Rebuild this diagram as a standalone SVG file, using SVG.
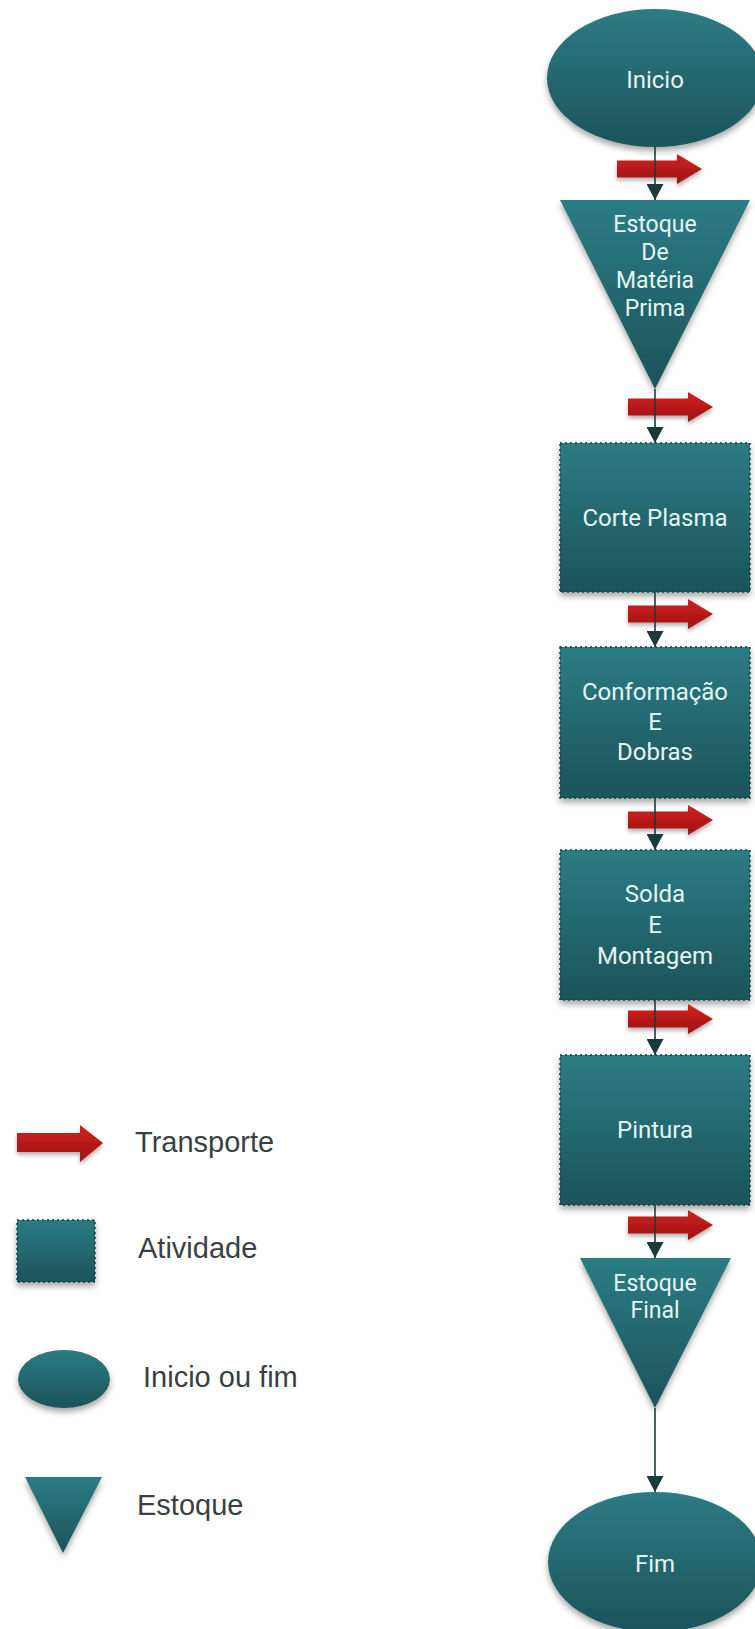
<svg xmlns="http://www.w3.org/2000/svg" width="755" height="1629" viewBox="0 0 755 1629">
<style>
.node-text{font-family:Roboto,"Liberation Sans",sans-serif;font-size:24px;fill:#e3f5f4;text-anchor:middle;dominant-baseline:central}
.tri-text{font-size:23px}
.legend-text{font-family:"Liberation Sans",Arial,sans-serif;font-size:29px;fill:#3a3f42;dominant-baseline:central}
.shape{fill:url(#teal);filter:url(#shadow)}
.act{stroke:#173c40;stroke-width:1.5;stroke-dasharray:2 3}
.conn{stroke:#1d3a3a;stroke-width:1.6;fill:none;marker-end:url(#head)}
.tr{fill:url(#red);filter:url(#shadow2)}
</style>
<defs>
<linearGradient id="teal" x1="0" y1="0" x2="0" y2="1">
<stop offset="0" stop-color="#2c7c84"/>
<stop offset="1" stop-color="#1c5359"/>
</linearGradient>
<linearGradient id="red" x1="0" y1="0" x2="0" y2="1">
<stop offset="0" stop-color="#d42020"/>
<stop offset="1" stop-color="#9c1212"/>
</linearGradient>
<filter id="shadow" x="-20%" y="-20%" width="140%" height="140%">
<feDropShadow dx="0" dy="4" stdDeviation="3" flood-color="#000" flood-opacity="0.35"/>
</filter>
<filter id="shadow2" x="-20%" y="-30%" width="140%" height="170%">
<feDropShadow dx="0" dy="3" stdDeviation="2" flood-color="#000" flood-opacity="0.3"/>
</filter>
<marker id="head" viewBox="0 0 16 17" refX="16" refY="8.5" markerWidth="16" markerHeight="17" markerUnits="userSpaceOnUse" orient="auto">
<path d="M0,0 L16,8.5 L0,17 Z" fill="#1d3a3a"/>
</marker>
<path id="tarrow" d="M0,-8.5 H60 V-15 L85,0 L60,15 V8.5 H0 Z"/>
</defs>
<rect width="755" height="1629" fill="#ffffff"/>

<g id="n-inicio">
<ellipse class="shape" cx="655" cy="78" rx="108" ry="69"/>
<text class="node-text" x="655" y="80">Inicio</text>
</g>

<g id="n-estoque-mp">
<polygon class="shape" points="560,200 750,200 655,389"/>
<text class="node-text tri-text" x="655" y="224">Estoque</text>
<text class="node-text tri-text" x="655" y="252">De</text>
<text class="node-text tri-text" x="655" y="280">Matéria</text>
<text class="node-text tri-text" x="655" y="308">Prima</text>
</g>

<g id="n-corte">
<rect class="shape act" x="560" y="443" width="190" height="149"/>
<text class="node-text" x="655" y="518">Corte Plasma</text>
</g>

<g id="n-conformacao">
<rect class="shape act" x="560" y="647" width="190" height="151"/>
<text class="node-text" x="655" y="692">Conformação</text>
<text class="node-text" x="655" y="722">E</text>
<text class="node-text" x="655" y="752">Dobras</text>
</g>

<g id="n-solda">
<rect class="shape act" x="560" y="850" width="190" height="150"/>
<text class="node-text" x="655" y="894">Solda</text>
<text class="node-text" x="655" y="925">E</text>
<text class="node-text" x="655" y="956">Montagem</text>
</g>

<g id="n-pintura">
<rect class="shape act" x="560" y="1055" width="190" height="150"/>
<text class="node-text" x="655" y="1130">Pintura</text>
</g>

<g id="n-estoque-final">
<polygon class="shape" points="580,1258 731,1258 655,1408"/>
<text class="node-text tri-text" x="655" y="1283">Estoque</text>
<text class="node-text tri-text" x="655" y="1310">Final</text>
</g>

<g id="n-fim">
<ellipse class="shape" cx="655" cy="1562" rx="107" ry="70"/>
<text class="node-text" x="655" y="1564">Fim</text>
</g>

<g id="transport">
<use href="#tarrow" class="tr" transform="translate(617,169)"/>
<use href="#tarrow" class="tr" transform="translate(628,407)"/>
<use href="#tarrow" class="tr" transform="translate(628,614)"/>
<use href="#tarrow" class="tr" transform="translate(628,820)"/>
<use href="#tarrow" class="tr" transform="translate(628,1019)"/>
<use href="#tarrow" class="tr" transform="translate(628,1225)"/>
</g>

<g id="connectors">
<line class="conn" x1="655" y1="147" x2="655" y2="200"/>
<line class="conn" x1="655" y1="389" x2="655" y2="443"/>
<line class="conn" x1="655" y1="592" x2="655" y2="647"/>
<line class="conn" x1="655" y1="798" x2="655" y2="850"/>
<line class="conn" x1="655" y1="1000" x2="655" y2="1055"/>
<line class="conn" x1="655" y1="1205" x2="655" y2="1258"/>
<line class="conn" x1="655" y1="1408" x2="655" y2="1492"/>
</g>

<g id="legend">
<path class="tr" d="M17,1133 H80 V1125 L103,1143 L80,1162 V1152 H17 Z"/>
<text class="legend-text" x="135" y="1142">Transporte</text>
<rect class="shape act" x="17" y="1220" width="78" height="62"/>
<text class="legend-text" x="138" y="1248">Atividade</text>
<ellipse class="shape" cx="64" cy="1379" rx="46" ry="29"/>
<text class="legend-text" x="143" y="1377">Inicio ou fim</text>
<polygon class="shape" points="25,1477 102,1477 63,1553"/>
<text class="legend-text" x="137" y="1505">Estoque</text>
</g>
</svg>
